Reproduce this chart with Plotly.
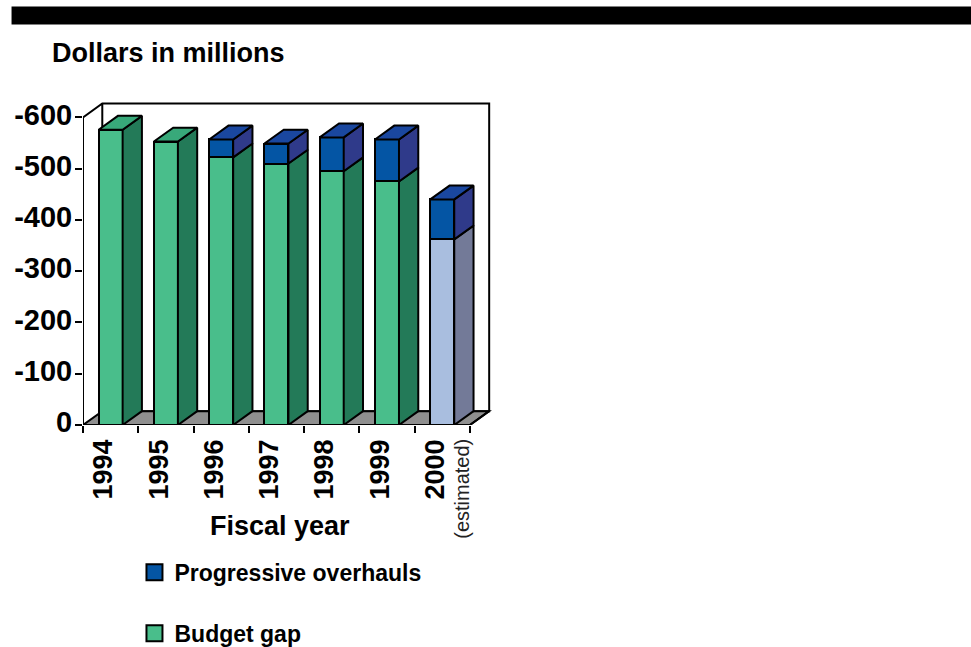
import plotly.graph_objects as go

fiscal_years = ["1994", "1995", "1996", "1997", "1998", "1999", "2000"]
budget_gap = [-576, -553, -522, -510, -495, -475, -362]
progressive_overhauls = [0, 0, -35, -39, -66, -82, -78]
value_ticks = [0, -100, -200, -300, -400, -500, -600]
value_labels = ["0", "-100", "-200", "-300", "-400", "-500", "-600"]

FONT = "Liberation Sans"
PX_X = 55.3
PX_Y = 0.5133
LEFT, ZERO_Y = 82.5, 425
X_MAX, Y_MIN = 7.4, -632
DX, DY = 19.3 / PX_X, -27
BAR_W = 24 / PX_X
W, H = 971, 647
plot_w = X_MAX * PX_X
plot_h = -Y_MIN * PX_Y


def pxx(p):
    return (p - LEFT) / plot_w


def pxy(p):
    return (ZERO_Y - p) / plot_h


GREEN = dict(front="#49BE8B", side="#237A58", top="#38A97A")
LIGHT = dict(front="#A9BEDF", side="#737A98", top="#A9BEDF")
BLUE = dict(front="#0455A4", side="#2F3A8A", top="#1A479F")
EDGE = dict(color="black", width=2)

n = len(fiscal_years)
centers = [i + 0.5 for i in range(n)]
palettes = [GREEN] * (n - 1) + [LIGHT]

fig = go.Figure()
fig.add_bar(x=centers, y=budget_gap, width=BAR_W, showlegend=False,
            marker=dict(color=[p["front"] for p in palettes], line=EDGE))
fig.add_bar(x=centers, y=progressive_overhauls, width=BAR_W, showlegend=False,
            marker=dict(color=BLUE["front"], line=EDGE))


def face(xs, ys, color):
    fig.add_scatter(x=xs + xs[:1], y=ys + ys[:1], mode="lines", fill="toself",
                    fillcolor=color, line=EDGE, showlegend=False, hoverinfo="skip")


for c, b, o, pal in zip(centers, budget_gap, progressive_overhauls, palettes):
    r = c + BAR_W / 2
    l = c - BAR_W / 2
    face([r, r + DX, r + DX, r], [0, DY, b + DY, b], pal["side"])
    if o:
        face([r, r + DX, r + DX, r], [b, b + DY, b + o + DY, b + o], BLUE["side"])
    t = b + o
    top_color = BLUE["top"] if o else pal["top"]
    face([l, l + DX, r + DX, r], [t, t + DY, t + DY, t], top_color)

# front axis edges
fig.add_scatter(x=[0, 0, n, n + DX], y=[-600, 0, 0, DY], mode="lines", line=EDGE,
                cliponaxis=False, showlegend=False, hoverinfo="skip")

# legend entries
fig.add_scatter(x=[None], y=[None], mode="markers", name="Progressive overhauls",
                legendgroup="a",
                marker=dict(symbol="square", size=16, color=BLUE["front"],
                            line=dict(color="black", width=2)))
fig.add_scatter(x=[None], y=[None], mode="markers", name="Budget gap",
                legendgroup="b",
                marker=dict(symbol="square", size=16, color=GREEN["front"],
                            line=dict(color="black", width=2)))

wall = (f"M 0,-600 L {DX},{-600 + DY} L {n + DX},{-600 + DY} L {n + DX},{DY} "
        f"L {DX},{DY} L {DX},{-600 + DY}")
floor = f"M 0,0 L {DX},{DY} L {n + DX},{DY} L {n},0 Z"
shapes = [
    dict(type="path", path=wall, xref="x", yref="y", layer="below",
         line=EDGE, fillcolor="rgba(0,0,0,0)"),
    dict(type="path", path=floor, xref="x", yref="y", layer="below",
         line=EDGE, fillcolor="#8F8F8F"),
    dict(type="rect", xref="paper", yref="paper", x0=pxx(11), x1=pxx(971),
         y0=pxy(24), y1=pxy(6), fillcolor="black", line_width=0),
]

annotations = [
    dict(text="Fiscal year", xref="paper", yref="paper", x=pxx(279.5), y=pxy(526),
         xanchor="center", yanchor="middle", showarrow=False,
         font=dict(family=FONT, size=27, color="black", weight=700)),
    dict(text="(estimated)", xref="paper", yref="paper", x=pxx(461.5), y=pxy(437),
         xanchor="center", yanchor="top", textangle=-90, showarrow=False,
         font=dict(family=FONT, size=20, color="#222222")),
]

fig.update_layout(
    width=W, height=H, autosize=False, barmode="stack", bargap=0,
    paper_bgcolor="white", plot_bgcolor="white",
    margin=dict(l=LEFT, r=W - LEFT - plot_w, t=ZERO_Y - plot_h, b=H - ZERO_Y, pad=0,
                autoexpand=False),
    title=dict(text="Dollars in millions", xref="container", yref="container",
               x=52 / W, y=1 - 53 / H, xanchor="left", yanchor="middle",
               font=dict(family=FONT, size=27, color="black", weight=700)),
    xaxis=dict(range=[0, X_MAX], showgrid=False, zeroline=False, showline=False,
               tickmode="array", tickvals=centers, ticktext=fiscal_years,
               ticks="", tickangle=-90, ticklabelstandoff=8, ticklabelshift=-7,
               tickfont=dict(family=FONT, size=27, color="black", weight=700),
               minor=dict(tickmode="array", tickvals=list(range(n + 1)), ticks="outside",
                          ticklen=7, tickwidth=1.6, tickcolor="black", showgrid=False),
               automargin=False),
    yaxis=dict(range=[0, Y_MIN], showgrid=False, zeroline=False, showline=False,
               tickmode="array", tickvals=value_ticks, ticktext=value_labels,
               ticks="outside", ticklen=7, tickwidth=1.6, tickcolor="black",
               ticklabelstandoff=-3, ticklabelshift=3,
               tickfont=dict(family=FONT, size=29, color="black", weight=700),
               automargin=False),
    legend=dict(x=pxx(134), y=pxy(551), xanchor="left", yanchor="top",
                traceorder="grouped", tracegroupgap=28, bgcolor="rgba(0,0,0,0)",
                font=dict(family=FONT, size=23, color="black", weight=700)),
    shapes=shapes, annotations=annotations,
)

fig.write_html("out.html", config=dict(displayModeBar=False),
               post_script="document.body.style.margin='0';")
